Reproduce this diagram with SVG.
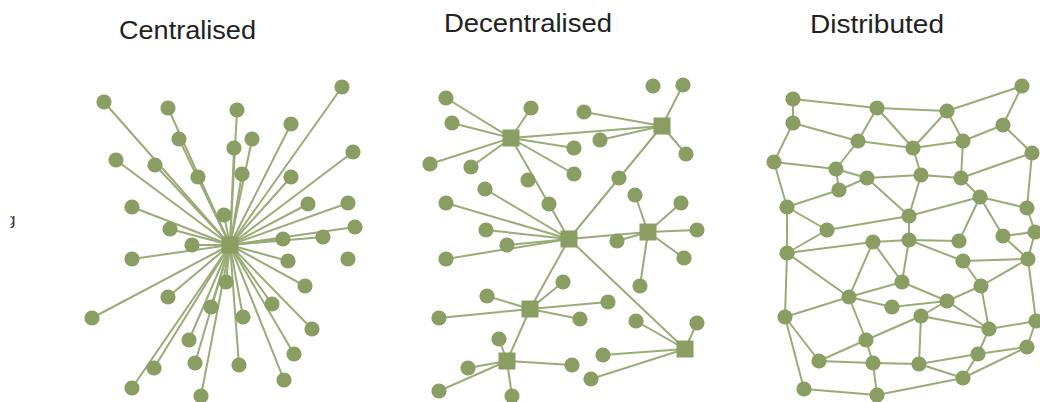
<svg xmlns="http://www.w3.org/2000/svg" width="1040" height="402" viewBox="0 0 1040 402">
  <style>
    .title { font-family: "Liberation Sans", Arial, sans-serif; font-size: 26px; fill: #222; }
    .frag { font-family: "Liberation Sans", Arial, sans-serif; font-size: 17px; fill: #333; }
    .edges line { stroke: #9aab78; stroke-width: 2; stroke-linecap: round; }
    .node { fill: #8a9d62; }
    .hub { fill: #8a9d62; }
  </style>
  <defs>
    <circle id="dot" r="7.6" class="node"/>
    <rect id="sq" x="-8.5" y="-8.5" width="17" height="17" class="hub"/>
    <clipPath id="edge-clip"><rect x="10.5" y="200" width="20" height="40"/></clipPath>
  </defs>

  <rect width="1040" height="402" fill="#fff"/>

  <!-- cut-off letter at the left margin -->
  <text class="frag" x="6" y="225" clip-path="url(#edge-clip)">g</text>

  <!-- panel titles -->
  <text class="title" x="119" y="39" textLength="137" lengthAdjust="spacingAndGlyphs">Centralised</text>
  <text class="title" x="444" y="32" textLength="168" lengthAdjust="spacingAndGlyphs">Decentralised</text>
  <text class="title" x="810" y="33" textLength="134" lengthAdjust="spacingAndGlyphs">Distributed</text>

  <!-- ============ CENTRALISED: every leaf wired to a single hub ============ -->
  <g id="central-edges" class="edges">
    <line x1="230" y1="245" x2="104" y2="102"/>
    <line x1="230" y1="245" x2="168" y2="108"/>
    <line x1="230" y1="245" x2="237" y2="110"/>
    <line x1="230" y1="245" x2="342" y2="87"/>
    <line x1="230" y1="245" x2="291" y2="124"/>
    <line x1="230" y1="245" x2="179" y2="139"/>
    <line x1="230" y1="245" x2="234" y2="148"/>
    <line x1="230" y1="245" x2="252" y2="139"/>
    <line x1="230" y1="245" x2="353" y2="152"/>
    <line x1="230" y1="245" x2="116" y2="160"/>
    <line x1="230" y1="245" x2="155" y2="165"/>
    <line x1="230" y1="245" x2="198" y2="177"/>
    <line x1="230" y1="245" x2="242" y2="174"/>
    <line x1="230" y1="245" x2="291" y2="177"/>
    <line x1="230" y1="245" x2="132" y2="207"/>
    <line x1="230" y1="245" x2="308" y2="204"/>
    <line x1="230" y1="245" x2="348" y2="203"/>
    <line x1="230" y1="245" x2="224" y2="215"/>
    <line x1="230" y1="245" x2="170" y2="229"/>
    <line x1="230" y1="245" x2="355" y2="227"/>
    <line x1="230" y1="245" x2="283" y2="239"/>
    <line x1="230" y1="245" x2="323" y2="237"/>
    <line x1="230" y1="245" x2="192" y2="245"/>
    <line x1="230" y1="245" x2="132" y2="259"/>
    <line x1="230" y1="245" x2="288" y2="261"/>
    <line x1="230" y1="245" x2="226" y2="282"/>
    <line x1="230" y1="245" x2="305" y2="286"/>
    <line x1="230" y1="245" x2="168" y2="297"/>
    <line x1="230" y1="245" x2="211" y2="307"/>
    <line x1="230" y1="245" x2="272" y2="304"/>
    <line x1="230" y1="245" x2="92" y2="318"/>
    <line x1="230" y1="245" x2="243" y2="317"/>
    <line x1="230" y1="245" x2="312" y2="329"/>
    <line x1="230" y1="245" x2="189" y2="340"/>
    <line x1="230" y1="245" x2="294" y2="354"/>
    <line x1="230" y1="245" x2="195" y2="363"/>
    <line x1="230" y1="245" x2="239" y2="365"/>
    <line x1="230" y1="245" x2="154" y2="368"/>
    <line x1="230" y1="245" x2="284" y2="380"/>
    <line x1="230" y1="245" x2="132" y2="388"/>
    <line x1="230" y1="245" x2="201" y2="396"/>
  </g>
  <g id="central-hub"><use href="#sq" x="230" y="245"/></g>
  <g id="central-leaves">
    <use href="#dot" x="104" y="102"/><use href="#dot" x="168" y="108"/>
    <use href="#dot" x="237" y="110"/><use href="#dot" x="342" y="87"/>
    <use href="#dot" x="291" y="124"/><use href="#dot" x="179" y="139"/>
    <use href="#dot" x="234" y="148"/><use href="#dot" x="252" y="139"/>
    <use href="#dot" x="353" y="152"/><use href="#dot" x="116" y="160"/>
    <use href="#dot" x="155" y="165"/><use href="#dot" x="198" y="177"/>
    <use href="#dot" x="242" y="174"/><use href="#dot" x="291" y="177"/>
    <use href="#dot" x="132" y="207"/><use href="#dot" x="308" y="204"/>
    <use href="#dot" x="348" y="203"/><use href="#dot" x="224" y="215"/>
    <use href="#dot" x="170" y="229"/><use href="#dot" x="355" y="227"/>
    <use href="#dot" x="283" y="239"/><use href="#dot" x="323" y="237"/>
    <use href="#dot" x="192" y="245"/><use href="#dot" x="132" y="259"/>
    <use href="#dot" x="288" y="261"/><use href="#dot" x="348" y="259"/>
    <use href="#dot" x="226" y="282"/><use href="#dot" x="305" y="286"/>
    <use href="#dot" x="168" y="297"/><use href="#dot" x="211" y="307"/>
    <use href="#dot" x="272" y="304"/><use href="#dot" x="92" y="318"/>
    <use href="#dot" x="243" y="317"/><use href="#dot" x="312" y="329"/>
    <use href="#dot" x="189" y="340"/><use href="#dot" x="294" y="354"/>
    <use href="#dot" x="195" y="363"/><use href="#dot" x="239" y="365"/>
    <use href="#dot" x="154" y="368"/><use href="#dot" x="284" y="380"/>
    <use href="#dot" x="132" y="388"/><use href="#dot" x="201" y="396"/>
  </g>

  <!-- ============ DECENTRALISED: several hubs, each with its own leaves ============ -->
  <g id="decentral-edges" class="edges">
    <!-- hub to hub -->
    <line x1="511" y1="138" x2="662" y2="126"/>
    <line x1="511" y1="138" x2="569" y2="239"/>
    <line x1="662" y1="126" x2="569" y2="239"/>
    <line x1="569" y1="239" x2="648" y2="232"/>
    <line x1="569" y1="239" x2="530" y2="309"/>
    <line x1="569" y1="239" x2="685" y2="349"/>
    <line x1="530" y1="309" x2="507" y2="361"/>
    <!-- hub 1 -->
    <line x1="511" y1="138" x2="446" y2="98"/>
    <line x1="511" y1="138" x2="452" y2="123"/>
    <line x1="511" y1="138" x2="531" y2="108"/>
    <line x1="511" y1="138" x2="430" y2="164"/>
    <line x1="511" y1="138" x2="471" y2="167"/>
    <line x1="511" y1="138" x2="574" y2="148"/>
    <line x1="511" y1="138" x2="574" y2="174"/>
    <!-- hub 2 -->
    <line x1="662" y1="126" x2="584" y2="112"/>
    <line x1="662" y1="126" x2="600" y2="140"/>
    <line x1="662" y1="126" x2="683" y2="85"/>
    <line x1="662" y1="126" x2="686" y2="154"/>
    <!-- hub 3 -->
    <line x1="569" y1="239" x2="446" y2="203"/>
    <line x1="569" y1="239" x2="485" y2="189"/>
    <line x1="569" y1="239" x2="486" y2="230"/>
    <line x1="569" y1="239" x2="507" y2="245"/>
    <line x1="569" y1="239" x2="446" y2="259"/>
    <!-- hub 4 -->
    <line x1="648" y1="232" x2="635" y2="195"/>
    <line x1="648" y1="232" x2="681" y2="203"/>
    <line x1="648" y1="232" x2="697" y2="230"/>
    <line x1="648" y1="232" x2="684" y2="258"/>
    <line x1="648" y1="232" x2="640" y2="286"/>
    <line x1="648" y1="232" x2="617" y2="241"/>
    <!-- hub 5 -->
    <line x1="530" y1="309" x2="487" y2="296"/>
    <line x1="530" y1="309" x2="563" y2="282"/>
    <line x1="530" y1="309" x2="608" y2="302"/>
    <line x1="530" y1="309" x2="439" y2="318"/>
    <line x1="530" y1="309" x2="580" y2="319"/>
    <!-- hub 6 -->
    <line x1="507" y1="361" x2="499" y2="339"/>
    <line x1="507" y1="361" x2="468" y2="368"/>
    <line x1="507" y1="361" x2="439" y2="391"/>
    <line x1="507" y1="361" x2="572" y2="365"/>
    <line x1="507" y1="361" x2="512" y2="396"/>
    <!-- hub 7 -->
    <line x1="685" y1="349" x2="636" y2="321"/>
    <line x1="685" y1="349" x2="697" y2="323"/>
    <line x1="685" y1="349" x2="603" y2="355"/>
    <line x1="685" y1="349" x2="591" y2="379"/>
  </g>
  <g id="decentral-hubs">
    <use href="#sq" x="511" y="138"/><use href="#sq" x="662" y="126"/>
    <use href="#sq" x="569" y="239"/><use href="#sq" x="648" y="232"/>
    <use href="#sq" x="530" y="309"/><use href="#sq" x="507" y="361"/>
    <use href="#sq" x="685" y="349"/>
  </g>
  <g id="decentral-leaves">
    <use href="#dot" x="446" y="98"/><use href="#dot" x="531" y="108"/>
    <use href="#dot" x="452" y="123"/><use href="#dot" x="584" y="112"/>
    <use href="#dot" x="653" y="86"/><use href="#dot" x="683" y="85"/>
    <use href="#dot" x="600" y="140"/><use href="#dot" x="574" y="148"/>
    <use href="#dot" x="686" y="154"/><use href="#dot" x="430" y="164"/>
    <use href="#dot" x="471" y="167"/><use href="#dot" x="574" y="174"/>
    <use href="#dot" x="528" y="180"/><use href="#dot" x="619" y="178"/>
    <use href="#dot" x="485" y="189"/><use href="#dot" x="446" y="203"/>
    <use href="#dot" x="549" y="204"/><use href="#dot" x="635" y="195"/>
    <use href="#dot" x="681" y="203"/><use href="#dot" x="486" y="230"/>
    <use href="#dot" x="697" y="230"/><use href="#dot" x="507" y="245"/>
    <use href="#dot" x="617" y="241"/><use href="#dot" x="446" y="259"/>
    <use href="#dot" x="684" y="258"/><use href="#dot" x="640" y="286"/>
    <use href="#dot" x="563" y="282"/><use href="#dot" x="487" y="296"/>
    <use href="#dot" x="608" y="302"/><use href="#dot" x="439" y="318"/>
    <use href="#dot" x="580" y="319"/><use href="#dot" x="636" y="321"/>
    <use href="#dot" x="697" y="323"/><use href="#dot" x="499" y="339"/>
    <use href="#dot" x="603" y="355"/><use href="#dot" x="468" y="368"/>
    <use href="#dot" x="572" y="365"/><use href="#dot" x="591" y="379"/>
    <use href="#dot" x="439" y="391"/><use href="#dot" x="512" y="396"/>
  </g>

  <!-- ============ DISTRIBUTED: mesh with no hub ============ -->
  <g id="distributed-edges" class="edges">
    <line x1="793" y1="99" x2="877" y2="108"/>
    <line x1="877" y1="108" x2="947" y2="111"/>
    <line x1="947" y1="111" x2="1022" y2="86"/>
    <line x1="793" y1="99" x2="793" y2="123"/>
    <line x1="793" y1="123" x2="858" y2="141"/>
    <line x1="877" y1="108" x2="858" y2="141"/>
    <line x1="877" y1="108" x2="913" y2="148"/>
    <line x1="947" y1="111" x2="913" y2="148"/>
    <line x1="947" y1="111" x2="963" y2="141"/>
    <line x1="913" y1="148" x2="963" y2="141"/>
    <line x1="963" y1="141" x2="1003" y2="125"/>
    <line x1="1022" y1="86" x2="1003" y2="125"/>
    <line x1="1003" y1="125" x2="1032" y2="153"/>
    <line x1="793" y1="123" x2="774" y2="162"/>
    <line x1="774" y1="162" x2="836" y2="169"/>
    <line x1="858" y1="141" x2="836" y2="169"/>
    <line x1="836" y1="169" x2="867" y2="178"/>
    <line x1="836" y1="169" x2="839" y2="190"/>
    <line x1="858" y1="141" x2="913" y2="148"/>
    <line x1="867" y1="178" x2="921" y2="175"/>
    <line x1="921" y1="175" x2="961" y2="178"/>
    <line x1="913" y1="148" x2="921" y2="175"/>
    <line x1="963" y1="141" x2="961" y2="178"/>
    <line x1="1032" y1="153" x2="961" y2="178"/>
    <line x1="867" y1="178" x2="839" y2="190"/>
    <line x1="839" y1="190" x2="787" y2="207"/>
    <line x1="774" y1="162" x2="787" y2="207"/>
    <line x1="867" y1="178" x2="909" y2="216"/>
    <line x1="921" y1="175" x2="909" y2="216"/>
    <line x1="961" y1="178" x2="980" y2="197"/>
    <line x1="980" y1="197" x2="909" y2="216"/>
    <line x1="980" y1="197" x2="1027" y2="208"/>
    <line x1="1032" y1="153" x2="1027" y2="208"/>
    <line x1="787" y1="207" x2="827" y2="230"/>
    <line x1="827" y1="230" x2="909" y2="216"/>
    <line x1="980" y1="197" x2="959" y2="241"/>
    <line x1="980" y1="197" x2="1003" y2="236"/>
    <line x1="1003" y1="236" x2="1035" y2="232"/>
    <line x1="1027" y1="208" x2="1035" y2="232"/>
    <line x1="909" y1="216" x2="909" y2="240"/>
    <line x1="827" y1="230" x2="787" y2="253"/>
    <line x1="787" y1="207" x2="787" y2="253"/>
    <line x1="787" y1="253" x2="873" y2="242"/>
    <line x1="873" y1="242" x2="909" y2="240"/>
    <line x1="909" y1="240" x2="959" y2="241"/>
    <line x1="787" y1="253" x2="849" y2="297"/>
    <line x1="873" y1="242" x2="849" y2="297"/>
    <line x1="873" y1="242" x2="902" y2="282"/>
    <line x1="909" y1="240" x2="902" y2="282"/>
    <line x1="909" y1="240" x2="963" y2="261"/>
    <line x1="963" y1="261" x2="1028" y2="259"/>
    <line x1="1003" y1="236" x2="1028" y2="259"/>
    <line x1="1035" y1="232" x2="1028" y2="259"/>
    <line x1="1028" y1="259" x2="981" y2="286"/>
    <line x1="963" y1="261" x2="981" y2="286"/>
    <line x1="981" y1="286" x2="947" y2="301"/>
    <line x1="902" y1="282" x2="947" y2="301"/>
    <line x1="849" y1="297" x2="902" y2="282"/>
    <line x1="849" y1="297" x2="892" y2="307"/>
    <line x1="892" y1="307" x2="947" y2="301"/>
    <line x1="947" y1="301" x2="921" y2="316"/>
    <line x1="921" y1="316" x2="989" y2="329"/>
    <line x1="947" y1="301" x2="989" y2="329"/>
    <line x1="981" y1="286" x2="989" y2="329"/>
    <line x1="1028" y1="259" x2="1036" y2="321"/>
    <line x1="989" y1="329" x2="1036" y2="321"/>
    <line x1="1036" y1="321" x2="1027" y2="347"/>
    <line x1="989" y1="329" x2="978" y2="354"/>
    <line x1="978" y1="354" x2="1027" y2="347"/>
    <line x1="978" y1="354" x2="919" y2="364"/>
    <line x1="919" y1="364" x2="963" y2="378"/>
    <line x1="978" y1="354" x2="963" y2="378"/>
    <line x1="963" y1="378" x2="1027" y2="347"/>
    <line x1="921" y1="316" x2="919" y2="364"/>
    <line x1="921" y1="316" x2="866" y2="340"/>
    <line x1="849" y1="297" x2="866" y2="340"/>
    <line x1="849" y1="297" x2="785" y2="317"/>
    <line x1="787" y1="253" x2="785" y2="317"/>
    <line x1="785" y1="317" x2="819" y2="361"/>
    <line x1="785" y1="317" x2="804" y2="389"/>
    <line x1="819" y1="361" x2="866" y2="340"/>
    <line x1="819" y1="361" x2="873" y2="363"/>
    <line x1="866" y1="340" x2="873" y2="363"/>
    <line x1="873" y1="363" x2="919" y2="364"/>
    <line x1="873" y1="363" x2="877" y2="395"/>
    <line x1="804" y1="389" x2="877" y2="395"/>
    <line x1="877" y1="395" x2="963" y2="378"/>
  </g>
  <g id="distributed-nodes">
    <use href="#dot" x="793" y="99"/><use href="#dot" x="877" y="108"/>
    <use href="#dot" x="947" y="111"/><use href="#dot" x="1022" y="86"/>
    <use href="#dot" x="793" y="123"/><use href="#dot" x="1003" y="125"/>
    <use href="#dot" x="858" y="141"/><use href="#dot" x="913" y="148"/>
    <use href="#dot" x="963" y="141"/><use href="#dot" x="1032" y="153"/>
    <use href="#dot" x="774" y="162"/><use href="#dot" x="836" y="169"/>
    <use href="#dot" x="867" y="178"/><use href="#dot" x="921" y="175"/>
    <use href="#dot" x="961" y="178"/><use href="#dot" x="839" y="190"/>
    <use href="#dot" x="980" y="197"/><use href="#dot" x="787" y="207"/>
    <use href="#dot" x="1027" y="208"/><use href="#dot" x="909" y="216"/>
    <use href="#dot" x="827" y="230"/><use href="#dot" x="1003" y="236"/>
    <use href="#dot" x="1035" y="232"/><use href="#dot" x="873" y="242"/>
    <use href="#dot" x="909" y="240"/><use href="#dot" x="959" y="241"/>
    <use href="#dot" x="787" y="253"/><use href="#dot" x="963" y="261"/>
    <use href="#dot" x="1028" y="259"/><use href="#dot" x="902" y="282"/>
    <use href="#dot" x="981" y="286"/><use href="#dot" x="849" y="297"/>
    <use href="#dot" x="892" y="307"/><use href="#dot" x="947" y="301"/>
    <use href="#dot" x="921" y="316"/><use href="#dot" x="785" y="317"/>
    <use href="#dot" x="1036" y="321"/><use href="#dot" x="989" y="329"/>
    <use href="#dot" x="866" y="340"/><use href="#dot" x="1027" y="347"/>
    <use href="#dot" x="978" y="354"/><use href="#dot" x="819" y="361"/>
    <use href="#dot" x="873" y="363"/><use href="#dot" x="919" y="364"/>
    <use href="#dot" x="963" y="378"/><use href="#dot" x="804" y="389"/>
    <use href="#dot" x="877" y="395"/>
  </g>
</svg>
